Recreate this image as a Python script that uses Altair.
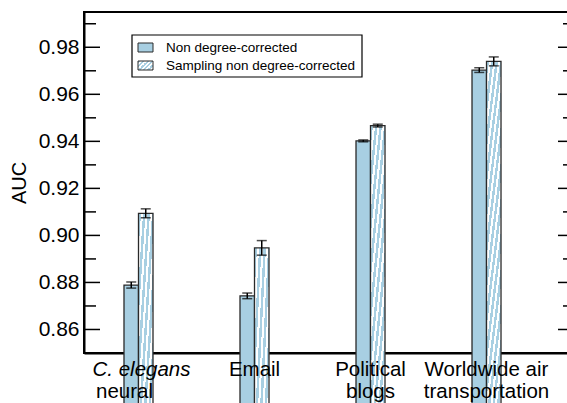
import altair as alt
import pandas as pd

# ---- data -------------------------------------------------------------
categories = ["C. elegans neural", "Email", "Political blogs", "Worldwide air transportation"]
label_line1 = ["C. elegans", "Email", "Political", "Worldwide air"]
label_line2 = ["neural", "", "blogs", "transportation"]
series = ["Non degree-corrected", "Sampling non degree-corrected"]

auc_plain = [0.8789, 0.8743, 0.9402, 0.9703]
err_plain = [0.0013, 0.0012, 0.0004, 0.0010]
auc_sampling = [0.9094, 0.8947, 0.9467, 0.9740]
err_sampling = [0.0019, 0.0031, 0.0006, 0.0019]

y_major = [0.86, 0.88, 0.90, 0.92, 0.94, 0.96, 0.98]
y_minor = [0.85, 0.87, 0.89, 0.91, 0.93, 0.95, 0.97, 0.99]

# ---- layout / style ---------------------------------------------------
W, H = 490, 341
Y_DOMAIN = [0.85, 0.995]
FONT = "Liberation Sans"
BLUE = "#a8cfe2"
EDGE = "#2a2a2a"
STRIPE_PERIOD = 4.5  # px, measured along x + y
STRIPE_FILL = 0.55   # share of each period painted blue


def hatch(w, h, period=STRIPE_PERIOD):
    """Diagonal (///) stripe fill for a w x h pixel box as a linear gradient."""
    span = w + h
    a = span / (w * w + h * h)
    n = int(span / period) + 1
    stops = []
    for k in range(n):
        s0 = min(k * period / span, 1.0)
        s1 = min((k + STRIPE_FILL) * period / span, 1.0)
        s2 = min((k + 1) * period / span, 1.0)
        stops += [
            alt.GradientStop(offset=s0, color=BLUE),
            alt.GradientStop(offset=s1, color=BLUE),
            alt.GradientStop(offset=s1, color="white"),
            alt.GradientStop(offset=s2, color="white"),
        ]
    return alt.LinearGradient(gradient="linear", stops=stops, x1=0, y1=0, x2=a * w, y2=a * h)


def bar_px(v):
    return (v - Y_DOMAIN[0]) / (Y_DOMAIN[1] - Y_DOMAIN[0]) * H


rows = []
for c, v, e in zip(categories, auc_plain, err_plain):
    rows.append({"category": c, "series": series[0], "auc": v, "err": e})
for c, v, e in zip(categories, auc_sampling, err_sampling):
    rows.append({"category": c, "series": series[1], "auc": v, "err": e})
df = pd.DataFrame(rows)

labels_df = pd.DataFrame({"category": categories, "l1": label_line1, "l2": label_line2})

x_enc = alt.X(
    "category:N",
    scale=alt.Scale(domain=categories, paddingInner=0.75, paddingOuter=0.487, align=0.354),
    axis=alt.Axis(labels=False, ticks=False, title=None, domainWidth=2, domainColor="black"),
)
x_off = alt.XOffset("series:N", scale=alt.Scale(domain=series, paddingInner=0, paddingOuter=0))
y_scale = alt.Scale(domain=Y_DOMAIN, zero=False, nice=False)
y_axis = alt.Axis(
    values=y_major, format=".2f", ticks=False, tickSize=0, grid=False,
    domainWidth=2, domainColor="black", labelPadding=5,
    labelFontSize=21, labelColor="black",
    title="AUC", titleFontSize=20, titleFontWeight="normal", titleColor="black",
    titlePadding=9,
)


def yq(field):
    return alt.Y(field, type="quantitative", scale=y_scale, axis=y_axis, title="AUC")


base = alt.Chart(df)

# solid bars
bars_plain = base.transform_filter(alt.datum.series == series[0]).mark_bar(
    fill=BLUE, stroke=EDGE, strokeWidth=1.3
).encode(x=x_enc, xOffset=x_off, y=yq("auc"), y2=alt.value(H))

# hatched bars, one per category so each gets its own stripe geometry
bar_w = W / 4.224 * 0.25 / 2
hatched_layers = []
for c, v in zip(categories, auc_sampling):
    hatched_layers.append(
        base.transform_filter(
            (alt.datum.series == series[1]) & (alt.datum.category == c)
        ).mark_bar(fill=hatch(bar_w, bar_px(v)), stroke=EDGE, strokeWidth=1.3).encode(
            x=x_enc, xOffset=x_off, y=yq("auc"), y2=alt.value(H)
        )
    )

# error bars
err_base = base.transform_calculate(lo="datum.auc - datum.err", hi="datum.auc + datum.err")
err_rule = err_base.mark_rule(color="black", strokeWidth=1.5).encode(
    x=x_enc, xOffset=x_off, y=yq("lo"), y2="hi:Q",
)
cap_lo = err_base.mark_tick(orient="horizontal", size=10, thickness=1.5, color="black").encode(
    x=x_enc, xOffset=x_off, y=yq("lo")
)
cap_hi = err_base.mark_tick(orient="horizontal", size=10, thickness=1.5, color="black").encode(
    x=x_enc, xOffset=x_off, y=yq("hi")
)


# inward frame ticks on both sides
def frame_ticks(values, x0, x1):
    return alt.Chart(pd.DataFrame({"tick": values})).mark_rule(color="black", strokeWidth=1.5).encode(
        y=yq("tick"), x=alt.value(x0), x2=alt.value(x1)
    )


ticks = [
    frame_ticks(y_major, 0, 16),
    frame_ticks(y_minor, 0, 12),
    frame_ticks(y_major, W - 16, W),
    frame_ticks(y_minor, W - 11, W),
]

# category labels under the axis (two lines each)
lab = alt.Chart(labels_df)
text_kw = dict(fontSize=20.5, font=FONT, color="black", baseline="alphabetic", align="center")
L1_Y, L2_Y = H + 23, H + 45
line1 = lab.transform_filter(alt.datum.category != categories[0]).mark_text(**text_kw).encode(
    x=x_enc, y=alt.value(L1_Y), text="l1:N"
)
line1_it = lab.transform_filter(alt.datum.category == categories[0]).mark_text(
    fontStyle="italic", dx=3, **text_kw
).encode(x=x_enc, y=alt.value(L1_Y), text="l1:N")
line2 = lab.transform_filter(
    (alt.datum.category != categories[0]) & (alt.datum.l2 != "")
).mark_text(**text_kw).encode(x=x_enc, y=alt.value(L2_Y), text="l2:N")
line2_first = lab.transform_filter(alt.datum.category == categories[0]).mark_text(
    dx=-14, **text_kw
).encode(x=x_enc, y=alt.value(L2_Y), text="l2:N")

# legend box
one = alt.Data(values=[{}])
legend_frame = alt.Chart(one).mark_rect(fill="white", stroke="black", strokeWidth=1.2).encode(
    x=alt.value(48), x2=alt.value(278), y=alt.value(23), y2=alt.value(65)
)
sw_plain = alt.Chart(one).mark_rect(fill=BLUE, stroke=EDGE, strokeWidth=1).encode(
    x=alt.value(54), x2=alt.value(69), y=alt.value(31), y2=alt.value(40)
)
sw_hatch = alt.Chart(one).mark_rect(fill=hatch(15, 9), stroke=EDGE, strokeWidth=1).encode(
    x=alt.value(54), x2=alt.value(69), y=alt.value(49), y2=alt.value(58)
)
leg_kw = dict(fontSize=13.5, font=FONT, color="black", align="left", baseline="alphabetic")
leg_t1 = alt.Chart(one).mark_text(**leg_kw).encode(
    x=alt.value(82), y=alt.value(40), text=alt.value(series[0])
)
leg_t2 = alt.Chart(one).mark_text(**leg_kw).encode(
    x=alt.value(82), y=alt.value(58), text=alt.value(series[1])
)

chart = alt.layer(
    bars_plain, *hatched_layers, err_rule, cap_lo, cap_hi, *ticks,
    line1, line1_it, line2, line2_first,
    legend_frame, sw_plain, sw_hatch, leg_t1, leg_t2,
).properties(
    width=W, height=H,
    autosize=alt.AutoSizeParams(type="none"),
    padding={"left": 84, "top": 12, "right": -7, "bottom": 50},
    background="white",
).configure_view(
    stroke="black", strokeWidth=2
).configure_axis(
    labelFont=FONT, titleFont=FONT
)

chart.save("out.html", embed_options={"renderer": "svg", "actions": False})
